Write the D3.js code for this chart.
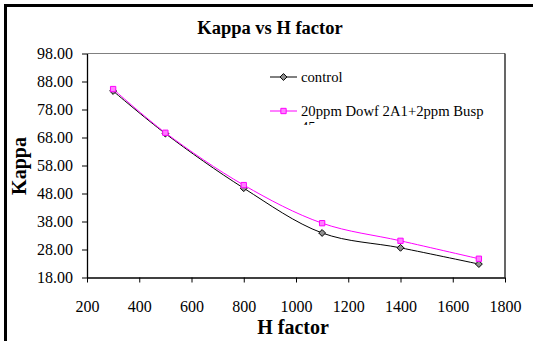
<!DOCTYPE html>
<html>
<head>
<meta charset="utf-8">
<script src="https://cdn.jsdelivr.net/npm/d3@7"></script>
<style>
  html, body { margin: 0; padding: 0; background: #fff; }
  svg { display: block; }
  svg text { font-family: "Liberation Serif", "Times New Roman", serif; fill: #000; }
</style>
</head>
<body>
<svg id="chart" width="533" height="341"></svg>
<script>
// H factor values (x) and kappa numbers for each series
const hFactor = [300, 500, 800, 1100, 1400, 1700];
const controlKappa = [84.6, 69.4, 49.9, 33.9, 28.6, 22.8];
const treatedKappa = [85.3, 69.7, 51.0, 37.4, 31.1, 24.7];
const seriesNames = ["control", "20ppm Dowf 2A1+2ppm Busp 45"];
const xTicks = [200, 400, 600, 800, 1000, 1200, 1400, 1600, 1800];
const yTicks = [18, 28, 38, 48, 58, 68, 78, 88, 98];

const FONT = "'Liberation Serif', 'Times New Roman', serif";
const svg = d3.select("#chart");
const plot = { left: 87, top: 53.5, right: 505, bottom: 277.5 };

const x = d3.scaleLinear().domain([200, 1800]).range([plot.left, plot.right]);
const y = d3.scaleLinear().domain([18, 98]).range([plot.bottom, plot.top]);

// outer chart frame (runs off the right and bottom edges)
svg.append("rect")
  .attr("x", 5.5).attr("y", 5.5)
  .attr("width", 540).attr("height", 350)
  .attr("fill", "none").attr("stroke", "#000").attr("stroke-width", 3);

// title
svg.append("text")
  .attr("x", 270).attr("y", 34)
  .attr("text-anchor", "middle")
  .style("font-family", FONT)
  .attr("font-weight", "bold").attr("font-size", 18.5)
  .text("Kappa vs H factor");

// plot area border
svg.append("line")
  .attr("x1", plot.left).attr("x2", plot.right)
  .attr("y1", plot.top).attr("y2", plot.top)
  .attr("stroke", "#808080").attr("stroke-width", 1.2);
svg.append("line")
  .attr("x1", plot.right).attr("x2", plot.right)
  .attr("y1", plot.top).attr("y2", plot.bottom)
  .attr("stroke", "#000").attr("stroke-width", 1.2);

// axes
const yAxis = d3.axisLeft(y).tickValues(yTicks).tickFormat(d3.format(".2f"))
  .tickSizeInner(5).tickSizeOuter(0).tickPadding(9);
const gy = svg.append("g").attr("transform", `translate(${plot.left},0)`).call(yAxis);
gy.attr("font-family", null).attr("font-size", null);
gy.selectAll("text").style("font-family", FONT).attr("font-size", 16).attr("fill", "#000");

const xAxis = d3.axisBottom(x).tickValues(xTicks).tickFormat(d3.format("d"))
  .tickSizeInner(5).tickSizeOuter(0).tickPadding(18);
const gx = svg.append("g").attr("transform", `translate(0,${plot.bottom})`).call(xAxis);
gx.attr("font-family", null).attr("font-size", null);
gx.selectAll("text").style("font-family", FONT).attr("font-size", 16).attr("fill", "#000");

[gx, gy].forEach(g => {
  g.select(".domain").attr("stroke", "#000").attr("stroke-width", 1.3);
  g.selectAll(".tick line").attr("stroke", "#000").attr("stroke-width", 1);
});

// axis titles
svg.append("text")
  .attr("x", 293).attr("y", 334)
  .attr("text-anchor", "middle")
  .style("font-family", FONT)
  .attr("font-weight", "bold").attr("font-size", 20)
  .text("H factor");
svg.append("text")
  .attr("transform", "translate(26,166) rotate(-90)")
  .attr("text-anchor", "middle")
  .style("font-family", FONT)
  .attr("font-weight", "bold").attr("font-size", 20)
  .text("Kappa");

// smoothed series lines
const line = d3.line().curve(d3.curveCatmullRom.alpha(0.5))
  .x(d => x(d[0])).y(d => y(d[1]));

const controlPts = hFactor.map((h, i) => [h, controlKappa[i]]);
const treatedPts = hFactor.map((h, i) => [h, treatedKappa[i]]);

svg.append("path").datum(controlPts).attr("d", line)
  .attr("fill", "none").attr("stroke", "#000").attr("stroke-width", 1);
svg.append("path").datum(treatedPts).attr("d", line)
  .attr("fill", "none").attr("stroke", "#ff00ff").attr("stroke-width", 1);

const diamond = d3.symbol().type(d3.symbolDiamond2).size(30);
const square = d3.symbol().type(d3.symbolSquare2).size(36);

svg.append("g").selectAll("path").data(controlPts).join("path")
  .attr("transform", d => `translate(${x(d[0])},${y(d[1])})`)
  .attr("d", diamond)
  .attr("fill", "#909090").attr("stroke", "#000").attr("stroke-width", 1);
svg.append("g").selectAll("path").data(treatedPts).join("path")
  .attr("transform", d => `translate(${x(d[0])},${y(d[1])})`)
  .attr("d", square)
  .attr("fill", "#ff80ff").attr("stroke", "#ff00ff").attr("stroke-width", 1);

// legend
const legend = svg.append("g");
const clip = svg.append("defs").append("clipPath").attr("id", "legend-clip");
clip.append("rect").attr("x", 265).attr("y", 60).attr("width", 236).attr("height", 65);

const legItems = [
  { name: seriesNames[0], y: 77, color: "#000", sym: diamond, fill: "#909090" },
  { name: seriesNames[1], y: 111, color: "#ff00ff", sym: square, fill: "#ff80ff" }
];
legItems.forEach(it => {
  legend.append("line")
    .attr("x1", 270).attr("x2", 297).attr("y1", it.y).attr("y2", it.y)
    .attr("stroke", it.color).attr("stroke-width", 1);
  legend.append("path")
    .attr("transform", `translate(283.5,${it.y})`)
    .attr("d", it.sym)
    .attr("fill", it.fill).attr("stroke", it.color).attr("stroke-width", 1);
});
legend.append("text")
  .attr("x", 301).attr("y", 82)
  .style("font-family", FONT)
  .attr("font-size", 14.7)
  .text(seriesNames[0]);
// long label wraps onto a second line, clipped by the legend box
const wrapped = legend.append("text")
  .attr("clip-path", "url(#legend-clip)")
  .style("font-family", FONT)
  .attr("x", 301).attr("y", 116)
  .attr("font-size", 14.7);
wrapped.append("tspan").attr("x", 301).text("20ppm Dowf 2A1+2ppm Busp");
wrapped.append("tspan").attr("x", 301).attr("dy", 16).text("45");
</script>
</body>
</html>
